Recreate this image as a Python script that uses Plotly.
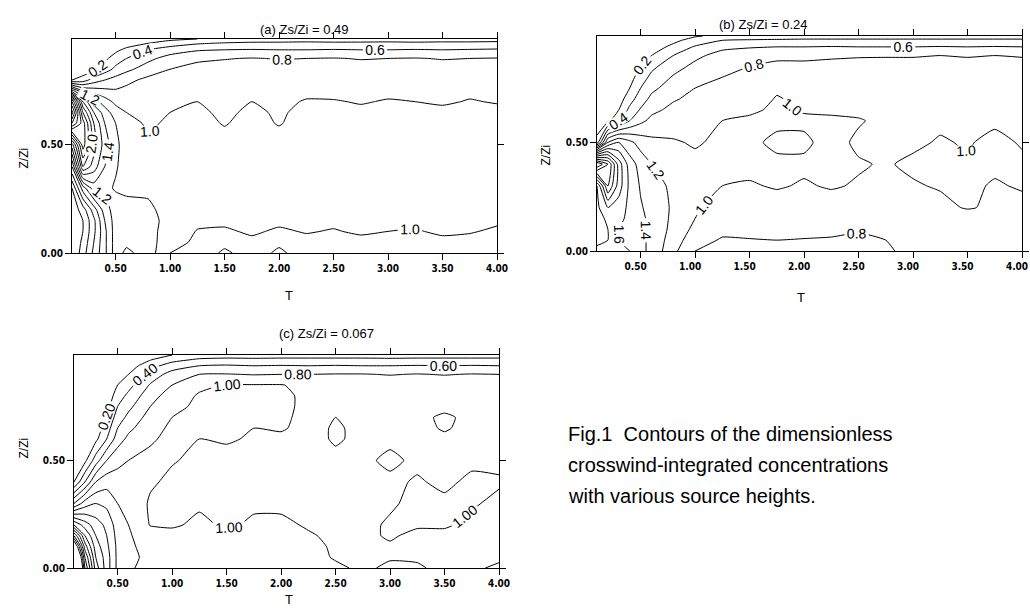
import numpy as np
import plotly.graph_objects as go

# ---------------- data ----------------
T = [0.1, 0.2, 0.3, 0.4, 0.5, 0.6, 0.8, 1.0, 1.25, 1.5, 1.75, 2.0, 2.25, 2.5, 2.75, 3.0, 3.25, 3.5, 3.75, 4.0]
Z = [0.0, 0.05, 0.1, 0.15, 0.2, 0.3, 0.4, 0.5, 0.6, 0.65, 0.7, 0.75, 0.8, 0.85, 0.9, 0.94, 0.97, 0.99]

# panel (a): one row per Z value, one column per T value
conc_a_rows = [
    [0.00, 0.30, 0.65, 0.95, 1.30, 1.45, 1.30, 1.00, 0.93, 1.02, 0.95, 1.02, 0.95, 0.94, 0.96, 0.95, 0.94, 0.96, 0.95, 0.94],
    [0.00, 0.25, 0.60, 0.95, 1.30, 1.35, 1.28, 1.08, 0.96, 0.97, 0.97, 0.98, 0.96, 0.97, 0.96, 0.97, 0.96, 0.97, 0.96, 0.95],
    [0.00, 0.20, 0.55, 0.95, 1.30, 1.30, 1.26, 1.12, 0.99, 0.98, 1.02, 0.98, 1.01, 0.99, 1.02, 1.00, 0.99, 1.02, 1.01, 0.98],
    [0.02, 0.20, 0.55, 1.00, 1.30, 1.28, 1.24, 1.16, 1.04, 1.03, 1.05, 1.03, 1.04, 1.03, 1.04, 1.04, 1.03, 1.04, 1.04, 1.02],
    [0.05, 0.30, 0.70, 1.10, 1.30, 1.25, 1.22, 1.16, 1.06, 1.06, 1.06, 1.06, 1.06, 1.06, 1.06, 1.06, 1.06, 1.06, 1.06, 1.05],
    [0.20, 0.90, 1.30, 1.25, 1.18, 1.17, 1.18, 1.15, 1.08, 1.07, 1.07, 1.07, 1.07, 1.07, 1.07, 1.07, 1.07, 1.07, 1.07, 1.07],
    [0.80, 2.00, 1.70, 1.40, 1.22, 1.12, 1.10, 1.08, 1.07, 1.07, 1.07, 1.07, 1.07, 1.07, 1.07, 1.07, 1.07, 1.07, 1.07, 1.07],
    [1.50, 2.50, 1.90, 1.50, 1.25, 1.10, 1.02, 1.05, 1.07, 1.06, 1.07, 1.07, 1.07, 1.07, 1.07, 1.07, 1.07, 1.07, 1.07, 1.07],
    [3.00, 2.50, 1.80, 1.40, 1.20, 1.05, 0.98, 1.02, 1.05, 0.99, 1.05, 0.99, 1.06, 1.05, 1.06, 1.06, 1.06, 1.06, 1.05, 1.06],
    [3.50, 2.20, 1.60, 1.30, 1.10, 1.00, 0.97, 1.00, 1.03, 0.97, 1.03, 0.98, 1.04, 1.00, 1.03, 1.04, 1.03, 1.04, 1.03, 1.04],
    [3.00, 1.80, 1.30, 1.10, 0.95, 0.92, 0.95, 0.97, 1.00, 0.96, 1.00, 0.97, 1.01, 1.01, 0.99, 1.01, 1.00, 0.98, 1.01, 0.99],
    [1.50, 1.00, 0.90, 0.85, 0.82, 0.85, 0.90, 0.93, 0.97, 0.95, 0.96, 0.96, 0.97, 0.96, 0.96, 0.97, 0.96, 0.96, 0.97, 0.96],
    [0.20, 0.30, 0.50, 0.60, 0.68, 0.75, 0.85, 0.90, 0.94, 0.93, 0.93, 0.93, 0.94, 0.93, 0.93, 0.94, 0.93, 0.93, 0.94, 0.93],
    [0.00, 0.05, 0.15, 0.30, 0.45, 0.55, 0.70, 0.80, 0.87, 0.88, 0.87, 0.88, 0.88, 0.87, 0.88, 0.88, 0.87, 0.88, 0.88, 0.87],
    [0.00, 0.00, 0.05, 0.15, 0.30, 0.40, 0.55, 0.68, 0.76, 0.79, 0.81, 0.79, 0.80, 0.81, 0.79, 0.80, 0.81, 0.79, 0.80, 0.81],
    [0.00, 0.00, 0.00, 0.05, 0.15, 0.25, 0.40, 0.50, 0.58, 0.60, 0.61, 0.60, 0.60, 0.61, 0.60, 0.60, 0.61, 0.60, 0.61, 0.62],
    [0.00, 0.00, 0.00, 0.00, 0.05, 0.10, 0.20, 0.30, 0.38, 0.42, 0.44, 0.44, 0.45, 0.44, 0.44, 0.45, 0.44, 0.45, 0.45, 0.46],
    [0.00, 0.00, 0.00, 0.00, 0.00, 0.05, 0.10, 0.15, 0.20, 0.25, 0.28, 0.29, 0.30, 0.29, 0.30, 0.30, 0.29, 0.30, 0.30, 0.31],
]

# panel (b): one column per T value, listed bottom (Z=0) to top
conc_b_cols = [
    [1.70, 1.50, 1.50, 1.50, 1.55, 1.60, 3.00, 0.30, 0.00, 0.00, 0.00, 0.00, 0.00, 0.00, 0.00, 0.00, 0.00, 0.00],
    [1.60, 1.60, 1.60, 1.65, 1.80, 2.40, 2.60, 1.20, 0.15, 0.05, 0.00, 0.00, 0.00, 0.00, 0.00, 0.00, 0.00, 0.00],
    [1.60, 1.60, 1.60, 1.65, 1.70, 1.90, 1.90, 1.40, 0.35, 0.20, 0.10, 0.05, 0.00, 0.00, 0.00, 0.00, 0.00, 0.00],
    [1.60, 1.58, 1.56, 1.55, 1.55, 1.55, 1.50, 1.25, 0.60, 0.45, 0.32, 0.20, 0.12, 0.06, 0.02, 0.00, 0.00, 0.00],
    [1.45, 1.45, 1.45, 1.45, 1.42, 1.38, 1.32, 1.12, 0.75, 0.62, 0.50, 0.40, 0.30, 0.20, 0.10, 0.05, 0.02, 0.00],
    [1.35, 1.35, 1.35, 1.34, 1.33, 1.30, 1.20, 1.05, 0.85, 0.75, 0.65, 0.55, 0.45, 0.35, 0.20, 0.10, 0.05, 0.00],
    [1.05, 1.10, 1.14, 1.16, 1.17, 1.15, 1.08, 1.02, 0.90, 0.85, 0.78, 0.70, 0.62, 0.52, 0.40, 0.25, 0.15, 0.08],
    [0.80, 0.88, 0.95, 1.00, 1.02, 1.02, 1.05, 0.98, 0.93, 0.90, 0.85, 0.80, 0.72, 0.65, 0.55, 0.42, 0.28, 0.18],
    [0.72, 0.78, 0.85, 0.90, 0.94, 1.00, 1.03, 1.04, 1.00, 0.96, 0.90, 0.85, 0.80, 0.76, 0.68, 0.55, 0.40, 0.25],
    [0.74, 0.79, 0.86, 0.91, 0.94, 0.99, 1.03, 1.03, 1.02, 0.98, 0.93, 0.88, 0.84, 0.80, 0.74, 0.58, 0.42, 0.28],
    [0.76, 0.80, 0.87, 0.92, 0.95, 1.01, 1.03, 0.97, 1.03, 1.02, 1.01, 0.98, 0.92, 0.84, 0.76, 0.60, 0.43, 0.29],
    [0.78, 0.79, 0.86, 0.91, 0.95, 0.99, 1.02, 0.98, 1.02, 0.99, 0.97, 0.93, 0.88, 0.83, 0.77, 0.60, 0.44, 0.30],
    [0.76, 0.78, 0.85, 0.90, 0.95, 1.01, 1.03, 1.04, 1.02, 0.98, 0.96, 0.92, 0.88, 0.84, 0.78, 0.61, 0.44, 0.30],
    [0.78, 0.76, 0.82, 0.88, 0.93, 0.99, 1.01, 0.98, 1.01, 0.97, 0.95, 0.92, 0.88, 0.84, 0.79, 0.60, 0.44, 0.30],
    [0.79, 0.80, 0.86, 0.91, 0.95, 0.98, 0.99, 0.98, 0.97, 0.96, 0.95, 0.92, 0.88, 0.85, 0.79, 0.60, 0.44, 0.30],
    [0.82, 0.84, 0.88, 0.92, 0.95, 0.99, 1.02, 0.98, 0.97, 0.96, 0.95, 0.92, 0.88, 0.85, 0.79, 0.60, 0.44, 0.30],
    [0.80, 0.84, 0.88, 0.93, 0.97, 1.01, 1.02, 1.01, 0.98, 0.96, 0.95, 0.92, 0.88, 0.85, 0.80, 0.61, 0.44, 0.30],
    [0.82, 0.84, 0.89, 0.94, 1.01, 1.02, 1.01, 0.99, 0.97, 0.96, 0.95, 0.92, 0.88, 0.85, 0.79, 0.60, 0.44, 0.30],
    [0.83, 0.85, 0.90, 0.95, 0.98, 0.99, 1.02, 1.03, 0.98, 0.96, 0.95, 0.92, 0.88, 0.85, 0.80, 0.61, 0.44, 0.30],
    [0.80, 0.84, 0.89, 0.94, 0.97, 1.01, 1.02, 0.99, 0.97, 0.96, 0.95, 0.92, 0.88, 0.85, 0.79, 0.60, 0.44, 0.30],
]

# panel (c): one column per T value, listed bottom (Z=0) to top
conc_c_cols = [
    [5.00, 4.50, 3.80, 3.00, 2.20, 1.00, 0.20, 0.02, 0.00, 0.00, 0.00, 0.00, 0.00, 0.00, 0.00, 0.00, 0.00, 0.00],
    [3.00, 2.80, 2.50, 2.20, 1.90, 1.30, 0.60, 0.15, 0.02, 0.00, 0.00, 0.00, 0.00, 0.00, 0.00, 0.00, 0.00, 0.00],
    [2.10, 2.00, 1.90, 1.80, 1.70, 1.40, 1.00, 0.50, 0.15, 0.08, 0.03, 0.00, 0.00, 0.00, 0.00, 0.00, 0.00, 0.00],
    [1.70, 1.70, 1.65, 1.60, 1.55, 1.35, 1.12, 0.80, 0.40, 0.30, 0.20, 0.12, 0.06, 0.02, 0.00, 0.00, 0.00, 0.00],
    [1.35, 1.35, 1.35, 1.33, 1.30, 1.20, 1.08, 0.95, 0.70, 0.60, 0.50, 0.40, 0.30, 0.20, 0.10, 0.05, 0.02, 0.00],
    [1.25, 1.25, 1.24, 1.22, 1.20, 1.12, 1.05, 1.00, 0.85, 0.75, 0.65, 0.55, 0.45, 0.33, 0.20, 0.10, 0.05, 0.02],
    [1.08, 1.15, 1.12, 1.10, 0.99, 0.98, 1.02, 1.04, 0.98, 0.94, 0.88, 0.80, 0.72, 0.62, 0.48, 0.32, 0.18, 0.10],
    [1.04, 1.12, 1.10, 1.05, 0.98, 0.97, 0.97, 1.01, 1.04, 1.03, 1.00, 0.96, 0.90, 0.80, 0.68, 0.50, 0.32, 0.20],
    [1.06, 1.12, 1.14, 1.12, 1.03, 0.98, 0.98, 0.97, 1.00, 1.03, 1.04, 1.03, 1.02, 0.96, 0.80, 0.60, 0.42, 0.28],
    [1.03, 1.10, 1.10, 1.03, 0.98, 0.97, 0.97, 0.97, 1.01, 1.02, 1.04, 1.03, 1.02, 1.01, 0.81, 0.62, 0.44, 0.30],
    [1.03, 1.10, 1.12, 1.06, 1.02, 0.98, 0.97, 0.98, 0.99, 1.00, 1.03, 1.04, 1.02, 1.01, 0.79, 0.60, 0.43, 0.30],
    [1.04, 1.08, 1.10, 1.05, 1.02, 0.98, 0.97, 0.97, 0.98, 1.01, 1.02, 1.03, 1.02, 1.01, 0.80, 0.61, 0.44, 0.30],
    [1.01, 1.04, 1.04, 1.01, 0.99, 0.97, 0.97, 0.97, 0.97, 0.97, 0.97, 0.97, 0.98, 0.94, 0.80, 0.60, 0.44, 0.30],
    [1.02, 0.99, 0.98, 0.98, 0.98, 0.97, 0.97, 0.98, 1.01, 1.01, 1.00, 0.98, 0.97, 0.94, 0.81, 0.61, 0.44, 0.30],
    [0.98, 0.99, 0.98, 0.98, 0.98, 0.97, 0.97, 0.98, 0.98, 0.98, 0.98, 0.97, 0.96, 0.93, 0.81, 0.60, 0.44, 0.30],
    [1.02, 0.99, 0.99, 1.01, 1.01, 0.99, 0.98, 1.02, 0.98, 0.97, 0.97, 0.97, 0.96, 0.92, 0.79, 0.60, 0.43, 0.30],
    [1.01, 0.99, 0.98, 0.98, 1.01, 1.02, 1.01, 0.98, 0.97, 0.97, 0.97, 0.97, 0.96, 0.93, 0.81, 0.61, 0.44, 0.30],
    [0.98, 0.99, 0.98, 0.98, 1.01, 1.02, 0.98, 0.97, 0.98, 1.01, 1.02, 0.97, 0.96, 0.92, 0.79, 0.60, 0.44, 0.30],
    [0.99, 0.98, 0.98, 0.98, 0.98, 1.01, 1.02, 0.98, 0.97, 0.97, 0.97, 0.97, 0.96, 0.93, 0.81, 0.61, 0.44, 0.30],
    [1.01, 0.99, 0.98, 0.98, 0.98, 0.98, 1.01, 0.98, 0.97, 0.97, 0.97, 0.97, 0.96, 0.93, 0.80, 0.60, 0.44, 0.30],
]

panel_titles = ["(a) Zs/Zi = 0.49", "(b) Zs/Zi = 0.24", "(c) Zs/Zi = 0.067"]
label_formats = [".1f", ".1f", ".2f"]
x_tick_vals = [0.5, 1.0, 1.5, 2.0, 2.5, 3.0, 3.5, 4.0]
x_tick_text = ["0.50", "1.00", "1.50", "2.00", "2.50", "3.00", "3.50", "4.00"]
y_tick_vals = [0.0, 0.5]
y_tick_text = ["0.00", "0.50"]
caption_lines = ["Fig.1  Contours of the dimensionless",
                 "crosswind-integrated concentrations",
                 "with various source heights."]

grids = [np.array(conc_a_rows), np.array(conc_b_cols).T, np.array(conc_c_cols).T]

# ---------------- layout geometry (pixels) ----------------
W, H = 1030, 616
boxes = [(72, 497, 39, 253), (597, 1022, 36, 251), (74, 499, 355, 568)]  # left, right, top, bottom

fig = go.Figure()
axis_font = dict(family="DejaVu Sans Condensed, Liberation Sans Narrow, Arial", size=10, color="black", weight="bold")

for i, (grid, fmt) in enumerate(zip(grids, label_formats)):
    n = "" if i == 0 else str(i + 1)
    fig.add_trace(go.Contour(
        x=T, y=Z, z=grid,
        xaxis="x" + n, yaxis="y" + n,
        contours=dict(start=0.2, end=3.4, size=0.2, coloring="lines",
                      showlabels=True, labelformat=fmt,
                      labelfont=dict(family="Liberation Sans, Arial", size=14, color="black")),
        line=dict(width=1, smoothing=0.5),
        colorscale=[[0, "black"], [1, "black"]],
        showscale=False, hoverinfo="skip",
    ))
    l, r, t, b = boxes[i]
    common = dict(showline=True, linecolor="black", linewidth=1, mirror="allticks",
                  ticks="outside", ticklen=6, tickcolor="black", showgrid=False,
                  zeroline=False, tickfont=axis_font, automargin=False,
                  ticklabeloverflow="allow")
    xextra = dict(ticklabelshift=-5) if i == 1 else {}
    fig.update_layout(**{
        "xaxis" + n: dict(domain=[l / W, r / W], range=[0.1, 4.0], anchor="y" + n,
                          tickvals=x_tick_vals, ticktext=x_tick_text, **common, **xextra),
        "yaxis" + n: dict(domain=[1 - b / H, 1 - t / H], range=[0.0, 0.99], anchor="x" + n,
                          tickvals=y_tick_vals, ticktext=y_tick_text, **common),
    })

annotations = []
title_pos = [(258, 20), (810, 15), (277, 333)]
tx_pos = [(283, 295), (807, 297), (283, 609)]
zy_pos = [(14, 146), (545, 143), (14, 461)]
for i in range(3):
    annotations.append(dict(text=panel_titles[i], x=title_pos[i][0] / W, y=1 - title_pos[i][1] / H,
                            xref="paper", yref="paper", showarrow=False,
                            font=dict(family="Liberation Sans, Arial", size=13, color="black")))
    annotations.append(dict(text="T", x=tx_pos[i][0] / W, y=1 - tx_pos[i][1] / H,
                            xref="paper", yref="paper", showarrow=False,
                            font=dict(family="Liberation Sans, Arial", size=13, color="black")))
    annotations.append(dict(text="Z/Zi", x=zy_pos[i][0] / W, y=1 - zy_pos[i][1] / H, textangle=-90,
                            xref="paper", yref="paper", showarrow=False,
                            font=dict(family="Liberation Sans, Arial", size=12, color="black")))

for j, line in enumerate(caption_lines):
    annotations.append(dict(text=line, x=566 / W, y=1 - (447 + 31 * j) / H, xanchor="left",
                            xref="paper", yref="paper", showarrow=False,
                            font=dict(family="Liberation Sans, Arial", size=20, color="black")))

fig.update_layout(width=W, height=H, margin=dict(l=0, r=0, t=0, b=0),
                  paper_bgcolor="white", plot_bgcolor="white",
                  showlegend=False, annotations=annotations)

fig.write_html("out.html", config={"displayModeBar": False},
               post_script="document.body.style.margin='0px';document.body.style.overflow='hidden';")
